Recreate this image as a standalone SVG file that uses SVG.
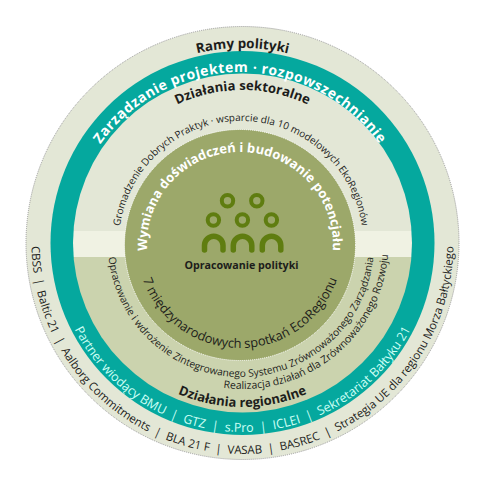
<svg xmlns="http://www.w3.org/2000/svg" width="485" height="483" viewBox="0 0 485 483">
<style>
text{font-family:"Open Sans","Noto Sans","DejaVu Sans",sans-serif;fill:#1d1d1b}
.m{text-anchor:middle}
.b{font-weight:700}
.w{fill:#fff}
.c{fill:#ccfff5}
</style>
<defs>
<path id="t195" d="M242.5 438A195 195 0 0 1 242.5 48A195 195 0 0 1 242.5 438"/>
<path id="t171" d="M240 414A171 171 0 0 1 240 72A171 171 0 0 1 240 414"/>
<path id="t153" d="M242.5 396A153 153 0 0 1 242.5 90A153 153 0 0 1 242.5 396"/>
<path id="t122" d="M241 365A122 122 0 0 1 241 121A122 122 0 0 1 241 365"/>
<path id="t93" d="M240 338A93 93 0 0 1 240 152A93 93 0 0 1 240 338"/>
<path id="b211" d="M242.5 32A211 211 0 0 0 242.5 454A211 211 0 0 0 242.5 32"/>
<path id="b189" d="M242.5 54A189 189 0 0 0 242.5 432A189 189 0 0 0 242.5 54"/>
<path id="b164" d="M242.5 79A164 164 0 0 0 242.5 407A164 164 0 0 0 242.5 79"/>
<path id="b146" d="M242.5 97A146 146 0 0 0 242.5 389A146 146 0 0 0 242.5 97"/>
<path id="b133" d="M241 111A133 133 0 0 0 241 377A133 133 0 0 0 241 111"/>
<path id="b103" d="M240 142A103 103 0 0 0 240 348A103 103 0 0 0 240 142"/>
<clipPath id="ic"><circle cx="242.5" cy="243" r="169.5"/></clipPath>
</defs>
<g id="rings">
<circle cx="242.5" cy="243" r="216.5" fill="#e3e7d6" stroke="#999" stroke-width="1" stroke-dasharray="1 1"/>
<circle cx="242.5" cy="243" r="192" fill="#05a89e"/>
<g clip-path="url(#ic)">
<rect x="70" y="70" width="345" height="161" fill="#e3e7d6"/>
<rect x="70" y="231" width="345" height="26" fill="#f0f2e3"/>
<rect x="70" y="257" width="345" height="160" fill="#cbd3ae"/>
</g>
<circle cx="240" cy="245" r="115.5" fill="#9ca86a" stroke="#fff" stroke-width="1" stroke-dasharray="1 1"/>
</g>
<g id="icon" fill="none" stroke="#5f7d10">
<g stroke-width="4">
<circle cx="227.5" cy="200.7" r="5.7"/><circle cx="256.8" cy="200.7" r="5.7"/>
<circle cx="213.4" cy="220" r="5.7"/><circle cx="242.4" cy="220" r="5.7"/><circle cx="271.4" cy="220" r="5.7"/>
</g>
<g stroke-width="5.5" stroke-linecap="round">
<path d="M204.5 250V245.5A9.25 9.25 0 0 1 223 245.5V250"/>
<path d="M233.3 250V245.5A9.25 9.25 0 0 1 251.8 245.5V250"/>
<path d="M262.3 250V245.5A9.25 9.25 0 0 1 280.8 245.5V250"/>
</g>
</g>
<g id="labels">
<text class="m b" font-size="13.4"><textPath href="#t195" startOffset="50%">Ramy polityki</textPath></text>
<text class="m b w" font-size="14" letter-spacing=".5"><textPath href="#t171" startOffset="50%">Zarządzanie projektem · rozpowszechnianie</textPath></text>
<text class="m b" font-size="13.2"><textPath href="#t153" startOffset="50%">Działania sektoralne</textPath></text>
<text class="m" font-size="10"><textPath href="#t122" startOffset="50%">Gromadzenie Dobrych Praktyk · wsparcie dla 10 modelowych EkoRegionów</textPath></text>
<text class="m b w" font-size="13"><textPath href="#t93" startOffset="50%">Wymiana doświadczeń i budowanie potencjału</textPath></text>
<text class="m b" x="241.5" y="269" font-size="10.7">Opracowanie polityki</text>
<text class="m" font-size="12.9"><textPath href="#b103" startOffset="50%">7 międzynarodowych spotkań EcoRegionu</textPath></text>
<text class="m" font-size="10.2"><textPath href="#b133" startOffset="50%">Opracowanie i wdrożenie Zintegrowanego Systemu Zrównoważonego Zarządzania</textPath></text>
<text font-size="10.5"><textPath href="#b146" startOffset="47.9%">Realizacja działań dla Zrównoważonego Rozwoju</textPath></text>
<text class="m b" font-size="13"><textPath href="#b164" startOffset="50%">Działania regionalne</textPath></text>
<text class="m c" font-size="12.5"><textPath href="#b189" startOffset="50%">Partner wiodący BMU&#160; | &#160;GTZ&#160; | &#160;s.Pro&#160; | &#160;ICLEI&#160; | &#160;Sekretariat Bałtyku 21</textPath></text>
<text class="m" font-size="11.5"><textPath href="#b211" startOffset="50%">CBSS&#160; | &#160;Baltic 21&#160; | &#160;Aalborg Commitments&#160; | &#160;BLA 21 F&#160; | &#160;VASAB&#160; | &#160;BASREC&#160; | &#160;Strategia UE dla regionu Morza Bałtyckiego</textPath></text>
</g>
</svg>
